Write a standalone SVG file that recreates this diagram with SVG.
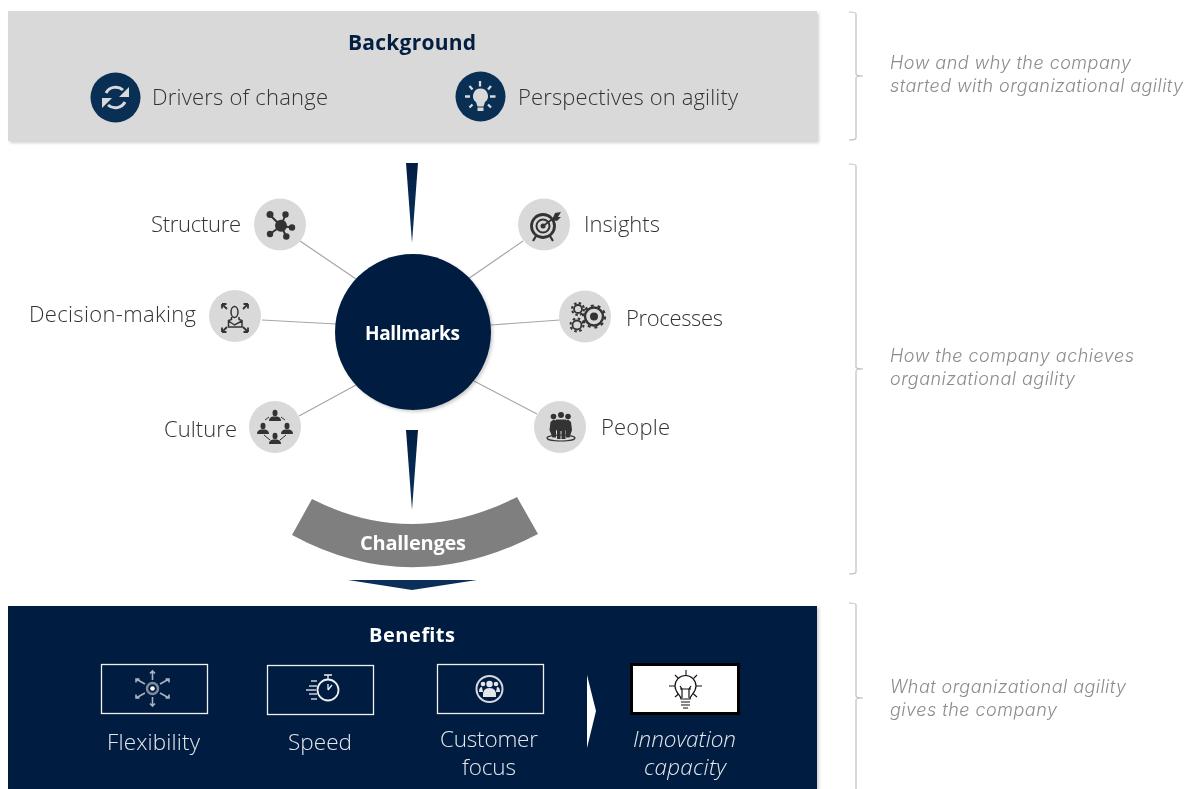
<svg xmlns="http://www.w3.org/2000/svg" width="1190" height="789" viewBox="0 0 1190 789">
<style>
text{font-family:"Open Sans","Liberation Sans",sans-serif;font-weight:300;opacity:.995}
.lab{font-size:22px;fill:#333;transform:translateY(1px)}
.note{font-family:"Inter","Liberation Sans",sans-serif;font-size:18px;fill:#8c8c8c;font-style:italic}
.ben{font-size:22.500px;fill:#e6e8ec;transform:translateY(1px)}
.bd{font-weight:700;font-size:20px;fill:#fff}
.hm{fill:#d9d9d9}
.ln{stroke:#a6a6a6;stroke-width:1.2;fill:none}
.br{stroke:#bfbfbf;stroke-width:1.2;fill:none}
.box{fill:none;stroke:#f0f0f0;stroke-width:1.3}
</style>
<defs>
<filter id="sh" x="-2%" y="-5%" width="104%" height="110%"><feDropShadow dx="2" dy="2" stdDeviation="1.5" flood-color="#000" flood-opacity=".18"/></filter>
<linearGradient id="wg" x1="0" y1="0" x2="0" y2="1"><stop offset="0" stop-color="#021e41"/><stop offset="1" stop-color="#0b3460"/></linearGradient>
</defs>

<g id="brackets">
<path class="br" d="M849 12Q856 12 856 14V74Q856 76 863 76Q856 76 856 78V138Q856 140 849 140"/>
<path class="br" d="M849 164Q856 164 856 166V367Q856 369 863 369Q856 369 856 371V572Q856 574 849 574"/>
<path class="br" d="M849 603Q856 603 856 605V696Q856 698 863 698Q856 698 856 700V789"/>
</g>

<g id="notes">
<text class="note" x="890" y="69" textLength="241">How and why the company</text>
<text class="note" x="890" y="92" textLength="293">started with organizational agility</text>
<text class="note" x="890" y="362" textLength="244">How the company achieves</text>
<text class="note" x="890" y="385" textLength="185">organizational agility</text>
<text class="note" x="890" y="693" textLength="236">What organizational agility</text>
<text class="note" x="890" y="716" textLength="167">gives the company</text>
</g>

<g id="background">
<rect x="8" y="11" width="809" height="130" fill="#d9d9d9" filter="url(#sh)"/>
<text x="348" y="50" textLength="128" font-size="21" fill="#021e41" style="font-weight:700">Background</text>
</g>
<g id="drivers">
<circle cx="115.500" cy="97.500" r="25" fill="#0a2f55"/>
<path d="M106 93a11 11 0 0 1 17-3M125 102a11 11 0 0 1-17 3" fill="none" stroke="#d9d9d9" stroke-width="3"/>
<path d="M129 87v10h-10zM102 108v-10h10z" fill="#d9d9d9"/>
<text class="lab" x="152" y="104" textLength="176">Drivers of change</text>
</g>
<g id="perspectives">
<circle cx="480.500" cy="96.500" r="25" fill="#0a2f55"/>
<path d="M480.500 88.500a7.500 7.500 0 0 1 4.500 13.500l-1.500 4.500h-6l-1.500-4.500a7.500 7.500 0 0 1 4.500-13.500z" fill="#d9d9d9"/>
<rect x="477.500" y="107.500" width="6" height="3.500" fill="#d9d9d9"/>
<path d="M480 81v5.500M469.500 86l3 3.500M491 86l-3 3.500M465 96.500h5M490 96.500h5.500M469.500 107.500l3-3M491 107.500l-3-3" stroke="#d9d9d9" stroke-width="2.300"/>
<text class="lab" x="518" y="104" textLength="220">Perspectives on agility</text>
</g>

<g id="connectors">
<path class="ln" d="M300 241L356 279M262 320L336 324M299 416L356 385M523 241L468 279M560 320L491 325M537 414L474 381"/>
</g>

<g id="wedges">
<polygon points="406,163 418,163 412,243" fill="url(#wg)"/>
<polygon points="406,430 418,430 412,510" fill="url(#wg)"/>
<polygon points="348,580 477,580 412,590" fill="#0b2f58"/>
</g>

<g id="hallmarks">
<circle cx="413" cy="332" r="78" fill="#021e41" filter="url(#sh)"/>
<text class="bd" x="365" y="340" textLength="95" style="font-size:19px">Hallmarks</text>
</g>

<g id="structure">
<circle class="hm" cx="280" cy="224.500" r="26"/>
<text class="lab" x="151" y="231" textLength="90">Structure</text>
<path d="M281 226L270 215M281 226L285.500 214.500M281 226L270 234M281 226L292 227.500M281 226L286.300 236.500" stroke="#333" stroke-width="2"/>
<g fill="#333"><circle cx="281" cy="225.700" r="6"/><circle cx="270" cy="214.500" r="3.500"/><circle cx="285.500" cy="214.500" r="3.200"/><circle cx="270" cy="234" r="3.200"/><circle cx="292" cy="227.500" r="3.200"/><circle cx="286.300" cy="236.500" r="3.200"/></g>
</g>
<g id="decision">
<circle class="hm" cx="235" cy="316" r="26"/>
<text class="lab" x="29" y="321" textLength="167">Decision-making</text>
<g fill="none" stroke="#333" stroke-width="1.500">
<ellipse cx="234.500" cy="312" rx="3.500" ry="5.500"/>
<path d="M231.500 317v2.500l-3 1v6.500h13.500v-6.500l-3-1v-2.500M228.500 321l6 4 7.500-4"/>
<path stroke-width="1.800" d="M222 304l5 5M222 304h4.500M222 304v4.500M248 304l-5 5M248 304h-4.500M248 304v4.500M222 332l5-5M222 332h4.500M222 332v-4.500M248 332l-5-5M248 332h-4.500M248 332v-4.500"/>
</g>
</g>
<g id="culture">
<circle class="hm" cx="275" cy="427" r="26"/>
<text class="lab" x="164" y="436" textLength="73">Culture</text>
<g fill="#333">
<ellipse cx="275" cy="413" rx="2.500" ry="3.200"/><path d="M269 421q0-4 4-4.500h4q4 .5 4 4.500z"/>
<ellipse cx="263" cy="426" rx="2.500" ry="3.200"/><path d="M257 434q0-4 4-4.500h4q4 .5 4 4.500z"/>
<ellipse cx="287" cy="426" rx="2.500" ry="3.200"/><path d="M281 434q0-4 4-4.500h4q4 .5 4 4.500z"/>
<ellipse cx="275" cy="436" rx="2.500" ry="3.200"/><path d="M269 444q0-4 4-4.500h4q4 .5 4 4.500z"/>
</g>
<path d="M265 420l4-3M285 420l-4-3M264 435l6 5M286 435l-6 5" stroke="#333" stroke-width="1"/>
</g>
<g id="insights">
<circle class="hm" cx="544" cy="224.500" r="26"/>
<text class="lab" x="584" y="231" textLength="76">Insights</text>
<g fill="none" stroke="#333">
<circle cx="543" cy="226" r="11.500" stroke-width="2.800"/>
<circle cx="543" cy="226" r="6.500" stroke-width="2"/>
<path d="M536 236l-3 5M550 236l3 5" stroke-width="2.200"/>
<path d="M543 226l15-11" stroke-width="1.800"/>
</g>
<circle cx="543" cy="226" r="2.500" fill="#333"/>
<path d="M555 213l6-1-3 5 3 0-4 4-5-1z" fill="#333"/>
</g>
<g id="processes">
<circle class="hm" cx="585" cy="316.500" r="26"/>
<text class="lab" x="626" y="325" textLength="97">Processes</text>
<g fill="none" stroke="#333">
<circle cx="594" cy="316.500" r="9" stroke-width="2.400"/>
<circle cx="594" cy="316.500" r="11" stroke-width="2.200" stroke-dasharray="3 3.900"/>
<circle cx="578" cy="309" r="4" stroke-width="1.800"/>
<circle cx="578" cy="309" r="6" stroke-width="2" stroke-dasharray="2.500 2.200"/>
<circle cx="577" cy="325" r="4.500" stroke-width="1.800"/>
<circle cx="577" cy="325" r="6.500" stroke-width="2" stroke-dasharray="2.500 2.600"/>
</g>
<circle cx="594" cy="316.500" r="4" fill="#333"/>
</g>
<g id="people">
<circle class="hm" cx="560" cy="427" r="26"/>
<text class="lab" x="601" y="434" textLength="69">People</text>
<g fill="#333">
<circle cx="553.500" cy="416.500" r="2.800"/><circle cx="561" cy="415" r="3"/><circle cx="568" cy="416.500" r="2.800"/>
<path d="M549.500 430l1-8 3-2.500 2.500 1v17h-3.500zM572 430l-1-8-3-2.500-2 1v17h3.500z"/>
<path d="M556 419.500h10l1.500 10-2 1v8.500h-4v-8h-1v8h-3.500v-8.500l-2-1z"/>
</g>
<ellipse cx="561" cy="438" rx="14" ry="3" fill="none" stroke="#333" stroke-width="1.200"/>
</g>

<g id="challenges">
<path d="M312 499Q412 550 517 497L538 534Q412 600 292 535Z" fill="#7f7f7f"/>
<text class="bd" x="360" y="550" textLength="106">Challenges</text>
</g>

<g id="benefits">
<rect x="8" y="606" width="809" height="190" fill="#021e41" filter="url(#sh)"/>
<text class="bd" x="369" y="642" textLength="86">Benefits</text>
</g>
<g id="flexibility">
<rect class="box" x="101.500" y="664.500" width="106" height="49"/>
<circle cx="152.500" cy="688.500" r="5.500" fill="none" stroke="#7f8b9c" stroke-width="2.500"/>
<circle cx="152.500" cy="688.500" r="2.300" fill="#fff"/>
<path fill="none" stroke="#a9b2bf" stroke-width="1.600" d="M152.500 680v-9M150 673.500l2.500-2.500 2.500 2.500M152.500 697v9M150 703.500l2.500 2.500 2.500-2.500M145 684l-9-5M136 682.500v-3.500h3.500M160 684l9-5M169 682.500v-3.500h-3.500M145 693l-9 5M136 694.500v3.500h3.500M160 693l9 5M169 694.500v3.500h-3.500"/>
<text class="ben" x="107" y="749" textLength="93">Flexibility</text>
</g>
<g id="speed">
<rect class="box" x="267.500" y="665.500" width="106" height="49"/>
<circle cx="328" cy="690" r="10.500" fill="none" stroke="#eef0f3" stroke-width="1.800"/>
<path d="M324 675h8M328 675v4M328 690l4-5M328 690v-6" stroke="#eef0f3" stroke-width="1.300" fill="none"/>
<path d="M311 681h6M309 686h8M306 690h10M309 694h8M311 699h6" stroke="#c9cfd7" stroke-width="1.300"/>
<text class="ben" x="288" y="749" textLength="64">Speed</text>
</g>
<g id="customer">
<rect class="box" x="437.500" y="664.500" width="106" height="49"/>
<circle cx="489.500" cy="689" r="13" fill="none" stroke="#d5d9df" stroke-width="2"/>
<g fill="#e3e6ea"><circle cx="489.500" cy="684" r="3.200"/><circle cx="483" cy="684" r="2.300"/><circle cx="496" cy="684" r="2.300"/><path d="M483 697q-1-9 6.500-9t6.500 9z"/><path d="M479 692q0-5 3-5l1 5zM500 692q0-5-3-5l-1 5z"/></g>
<text class="ben" x="440" y="746" textLength="98">Customer</text>
<text class="ben" x="462" y="774" textLength="54">focus</text>
</g>
<g id="chevron"><polygon points="587,675 596,711 587,748" fill="#fff"/></g>
<g id="innovation">
<rect x="631.500" y="664.500" width="107" height="49" fill="#fff" stroke="#000" stroke-width="3"/>
<path d="M681 699c0-4-6-6-6-13a10.500 10.500 0 0 1 21 0c0 7-6 9-6 13z" fill="none" stroke="#111" stroke-width="1.200"/>
<path d="M682 698v-9l-2-3M689 698v-9l2-3M680 689h11M681 702h9M681 705h9M683 708h5" stroke="#111" stroke-width="1.200" fill="none"/>
<path d="M686 670v6M675 675l3.500 3.500M697 675l-3.500 3.500M669 686h6M696 686h6M675 697l3.500-3M697 697l-3.500-3" stroke="#111" stroke-width="1.100"/>
<text class="ben" x="633" y="746" textLength="103" style="font-style:italic">Innovation</text>
<text class="ben" x="644" y="774" textLength="82" style="font-style:italic">capacity</text>
</g>
</svg>
